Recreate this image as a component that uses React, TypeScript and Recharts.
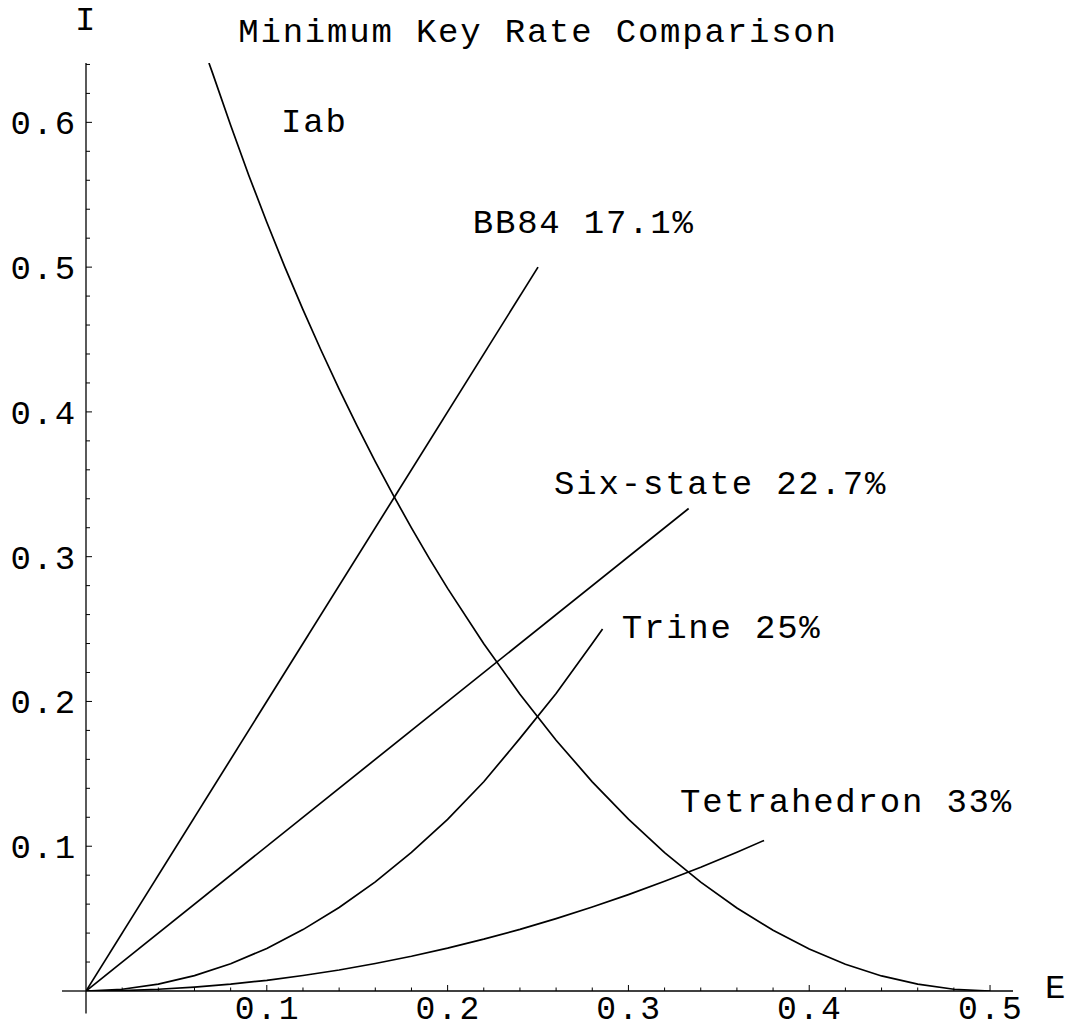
import React from 'react';
import { LineChart, Line, XAxis, YAxis, ReferenceLine, ReferenceDot } from 'recharts';

const iabData = [
  { e: 0.068, i: 0.641 }, { e: 0.07, i: 0.634 }, { e: 0.08, i: 0.598 }, { e: 0.09, i: 0.5635 },
  { e: 0.1, i: 0.531 }, { e: 0.11, i: 0.5 }, { e: 0.12, i: 0.4706 }, { e: 0.13, i: 0.4426 },
  { e: 0.14, i: 0.4158 }, { e: 0.15, i: 0.3902 }, { e: 0.16, i: 0.3657 }, { e: 0.17, i: 0.3423 },
  { e: 0.18, i: 0.3199 }, { e: 0.19, i: 0.2985 }, { e: 0.2, i: 0.2781 }, { e: 0.22, i: 0.2398 },
  { e: 0.24, i: 0.205 }, { e: 0.26, i: 0.1732 }, { e: 0.28, i: 0.1445 }, { e: 0.3, i: 0.1187 },
  { e: 0.32, i: 0.0956 }, { e: 0.34, i: 0.0752 }, { e: 0.36, i: 0.0573 }, { e: 0.38, i: 0.042 },
  { e: 0.4, i: 0.029 }, { e: 0.42, i: 0.0185 }, { e: 0.44, i: 0.0104 }, { e: 0.46, i: 0.0047 },
  { e: 0.48, i: 0.0012 }, { e: 0.5, i: 0 },
];

const bb84Data = [{ e: 0, i: 0 }, { e: 0.25, i: 0.5 }];

const sixStateData = [{ e: 0, i: 0 }, { e: 0.3333, i: 0.3333 }];

const trineData = [
  { e: 0, i: 0 }, { e: 0.02, i: 0.0012 }, { e: 0.04, i: 0.0047 }, { e: 0.06, i: 0.0106 },
  { e: 0.08, i: 0.0188 }, { e: 0.1, i: 0.0294 }, { e: 0.12, i: 0.0424 }, { e: 0.14, i: 0.0577 },
  { e: 0.16, i: 0.0754 }, { e: 0.18, i: 0.0957 }, { e: 0.2, i: 0.1185 }, { e: 0.22, i: 0.1445 },
  { e: 0.24, i: 0.1745 }, { e: 0.26, i: 0.2055 }, { e: 0.28, i: 0.24 }, { e: 0.2857, i: 0.25 },
];

const tetraData = [
  { e: 0, i: 0 }, { e: 0.02, i: 0.0003 }, { e: 0.04, i: 0.0012 }, { e: 0.06, i: 0.0027 },
  { e: 0.08, i: 0.0047 }, { e: 0.1, i: 0.0074 }, { e: 0.12, i: 0.0107 }, { e: 0.14, i: 0.0145 },
  { e: 0.16, i: 0.019 }, { e: 0.18, i: 0.024 }, { e: 0.2, i: 0.0296 }, { e: 0.22, i: 0.0358 },
  { e: 0.24, i: 0.0426 }, { e: 0.26, i: 0.05 }, { e: 0.28, i: 0.058 }, { e: 0.3, i: 0.0666 },
  { e: 0.32, i: 0.0758 }, { e: 0.34, i: 0.0855 }, { e: 0.36, i: 0.0959 }, { e: 0.375, i: 0.104 },
];

const xTicks = [
  0.02, 0.04, 0.06, 0.08, 0.1, 0.12, 0.14, 0.16, 0.18, 0.2, 0.22, 0.24, 0.26,
  0.28, 0.3, 0.32, 0.34, 0.36, 0.38, 0.4, 0.42, 0.44, 0.46, 0.48, 0.5,
];
const xMajorValues = [0.1, 0.2, 0.3, 0.4, 0.5];
const xMajorLabels = ['0.1', '0.2', '0.3', '0.4', '0.5'];

const yTicks = [
  0.02, 0.04, 0.06, 0.08, 0.1, 0.12, 0.14, 0.16, 0.18, 0.2, 0.22, 0.24, 0.26, 0.28, 0.3, 0.32,
  0.34, 0.36, 0.38, 0.4, 0.42, 0.44, 0.46, 0.48, 0.5, 0.52, 0.54, 0.56, 0.58, 0.6, 0.62, 0.64,
];
const yMajorValues = [0.1, 0.2, 0.3, 0.4, 0.5, 0.6];
const yMajorLabels = ['0.1', '0.2', '0.3', '0.4', '0.5', '0.6'];

const curveLabels = [
  { e: 0.1079, i: 0.5934, text: 'Iab' },
  { e: 0.2139, i: 0.5233, text: 'BB84 17.1%' },
  { e: 0.2589, i: 0.343, text: 'Six-state 22.7%' },
  { e: 0.2963, i: 0.2435, text: 'Trine 25%' },
  { e: 0.3285, i: 0.1237, text: 'Tetrahedron 33%' },
];

const FONT = "'Liberation Mono', 'Courier New', monospace";
const FS = 34;
const LS = 1.8;

const findMajor = (v: number, vals: number[]) => vals.findIndex((m) => Math.abs(m - v) < 1e-9);

const XTick = (props: any) => {
  const { x, y, payload } = props;
  const idx = findMajor(payload.value, xMajorValues);
  const major = idx >= 0;
  return (
    <g>
      <line x1={x} y1={y} x2={x} y2={y - (major ? 6 : 3.5)} stroke="#000" strokeWidth={1} />
      {major && (
        <text x={x + LS / 2} y={y + 28} textAnchor="middle" fontFamily={FONT} fontSize={33} letterSpacing={2.2} fill="#000">
          {xMajorLabels[idx]}
        </text>
      )}
    </g>
  );
};

const YTick = (props: any) => {
  const { x, y, payload } = props;
  const idx = findMajor(payload.value, yMajorValues);
  const major = idx >= 0;
  return (
    <g>
      <line x1={x} y1={y} x2={x + (major ? 6 : 4)} y2={y} stroke="#000" strokeWidth={1} />
      {major && (
        <text x={x - 9} y={y + 12} textAnchor="end" fontFamily={FONT} fontSize={FS} letterSpacing={LS} fill="#000">
          {yMajorLabels[idx]}
        </text>
      )}
    </g>
  );
};

const makeText = (text: string, anchor: string = 'start') => (p: any) => (
  <text x={p.cx} y={p.cy} textAnchor={anchor} fontFamily={FONT} fontSize={FS} letterSpacing={LS} fill="#000">
    {text}
  </text>
);

export default function App() {
  return (
    <div style={{ position: 'absolute', left: 0, top: 0, width: 1066, height: 1029, background: '#fff' }}>
      <svg width={1066} height={60} style={{ position: 'absolute', left: 0, top: 0 }}>
        <text x={538} y={42} textAnchor="middle" fontFamily={FONT} fontSize={FS} letterSpacing={LS} fill="#000">
          Minimum Key Rate Comparison
        </text>
      </svg>
      <div style={{ position: 'absolute', left: 0, top: 0 }}>
        <LineChart width={1066} height={1029} margin={{ top: 63, right: 53, left: 0, bottom: 0 }}>
          <XAxis
            dataKey="e"
            type="number"
            domain={[0, 0.5127]}
            ticks={xTicks}
            interval={0}
            tickSize={0}
            tickMargin={0}
            height={38}
            axisLine={{ stroke: '#000', strokeWidth: 1.3 }}
            tickLine={false}
            tick={<XTick />}
            allowDataOverflow
          />
          <YAxis
            type="number"
            domain={[0, 0.641]}
            ticks={yTicks}
            interval={0}
            tickSize={0}
            tickMargin={0}
            width={86}
            axisLine={{ stroke: '#000', strokeWidth: 1.3 }}
            tickLine={false}
            tick={<YTick />}
            allowDataOverflow
          />
          <ReferenceLine segment={[{ x: -0.0133, y: 0 }, { x: 0, y: 0 }]} ifOverflow="visible" stroke="#000" strokeWidth={1.3} />
          <ReferenceLine segment={[{ x: 0, y: -0.0155 }, { x: 0, y: 0 }]} ifOverflow="visible" stroke="#000" strokeWidth={1.3} />
          <Line data={iabData} dataKey="i" type="linear" stroke="#000" strokeWidth={1.7} dot={false} isAnimationActive={false} />
          <Line data={bb84Data} dataKey="i" type="linear" stroke="#000" strokeWidth={1.7} dot={false} isAnimationActive={false} />
          <Line data={sixStateData} dataKey="i" type="linear" stroke="#000" strokeWidth={1.7} dot={false} isAnimationActive={false} />
          <Line data={trineData} dataKey="i" type="linear" stroke="#000" strokeWidth={1.7} dot={false} isAnimationActive={false} />
          <Line data={tetraData} dataKey="i" type="linear" stroke="#000" strokeWidth={1.7} dot={false} isAnimationActive={false} />
          {curveLabels.map((l) => (
            <ReferenceDot key={l.text} x={l.e} y={l.i} r={0} ifOverflow="visible" shape={makeText(l.text)} />
          ))}
          <ReferenceDot x={0} y={0.664} r={0} ifOverflow="visible" shape={makeText('I', 'middle')} />
          <ReferenceDot x={0.5304} y={-0.0051} r={0} ifOverflow="visible" shape={makeText('E')} />
        </LineChart>
      </div>
    </div>
  );
}
